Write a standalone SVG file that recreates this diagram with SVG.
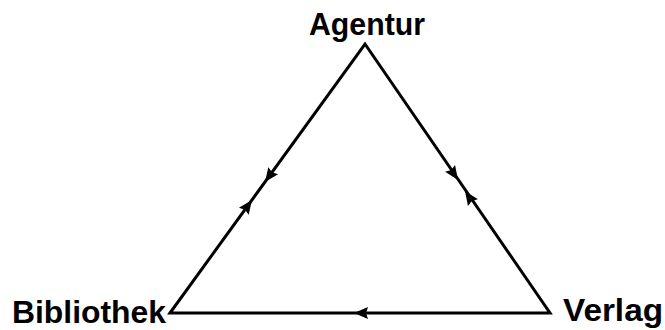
<svg xmlns="http://www.w3.org/2000/svg" width="665" height="330" viewBox="0 0 665 330">
<style>
.lbl{font-family:"Liberation Sans",Arial,Helvetica,sans-serif;font-weight:bold;font-size:32px;fill:#000}
.edge{stroke:#000;stroke-width:3;fill:none;stroke-linejoin:miter}
.ah{fill:#000;stroke:none}
</style>
<defs>
<path id="ah" class="ah" d="M0,0 L-14,-6 L-12,0 L-14,6 Z"/>
</defs>
<rect width="665" height="330" fill="#fff"/>
<g id="connectors">
<path class="edge" d="M170,313 L365,44 L550,313 Z"/>
<use href="#ah" transform="translate(265,182) rotate(125.8)"/>
<use href="#ah" transform="translate(252,200) rotate(-54.2)"/>
<use href="#ah" transform="translate(458,180) rotate(55.6)"/>
<use href="#ah" transform="translate(465,191) rotate(-124.4)"/>
<use href="#ah" transform="translate(354,313) rotate(180)"/>
</g>
<g id="agentur"><text class="lbl" x="309" y="35" textLength="116" lengthAdjust="spacingAndGlyphs">Agentur</text></g>
<g id="bibliothek"><text class="lbl" x="12" y="323" textLength="154" lengthAdjust="spacingAndGlyphs">Bibliothek</text></g>
<g id="verlag"><text class="lbl" x="563" y="321" textLength="100" lengthAdjust="spacingAndGlyphs">Verlag</text></g>
</svg>
